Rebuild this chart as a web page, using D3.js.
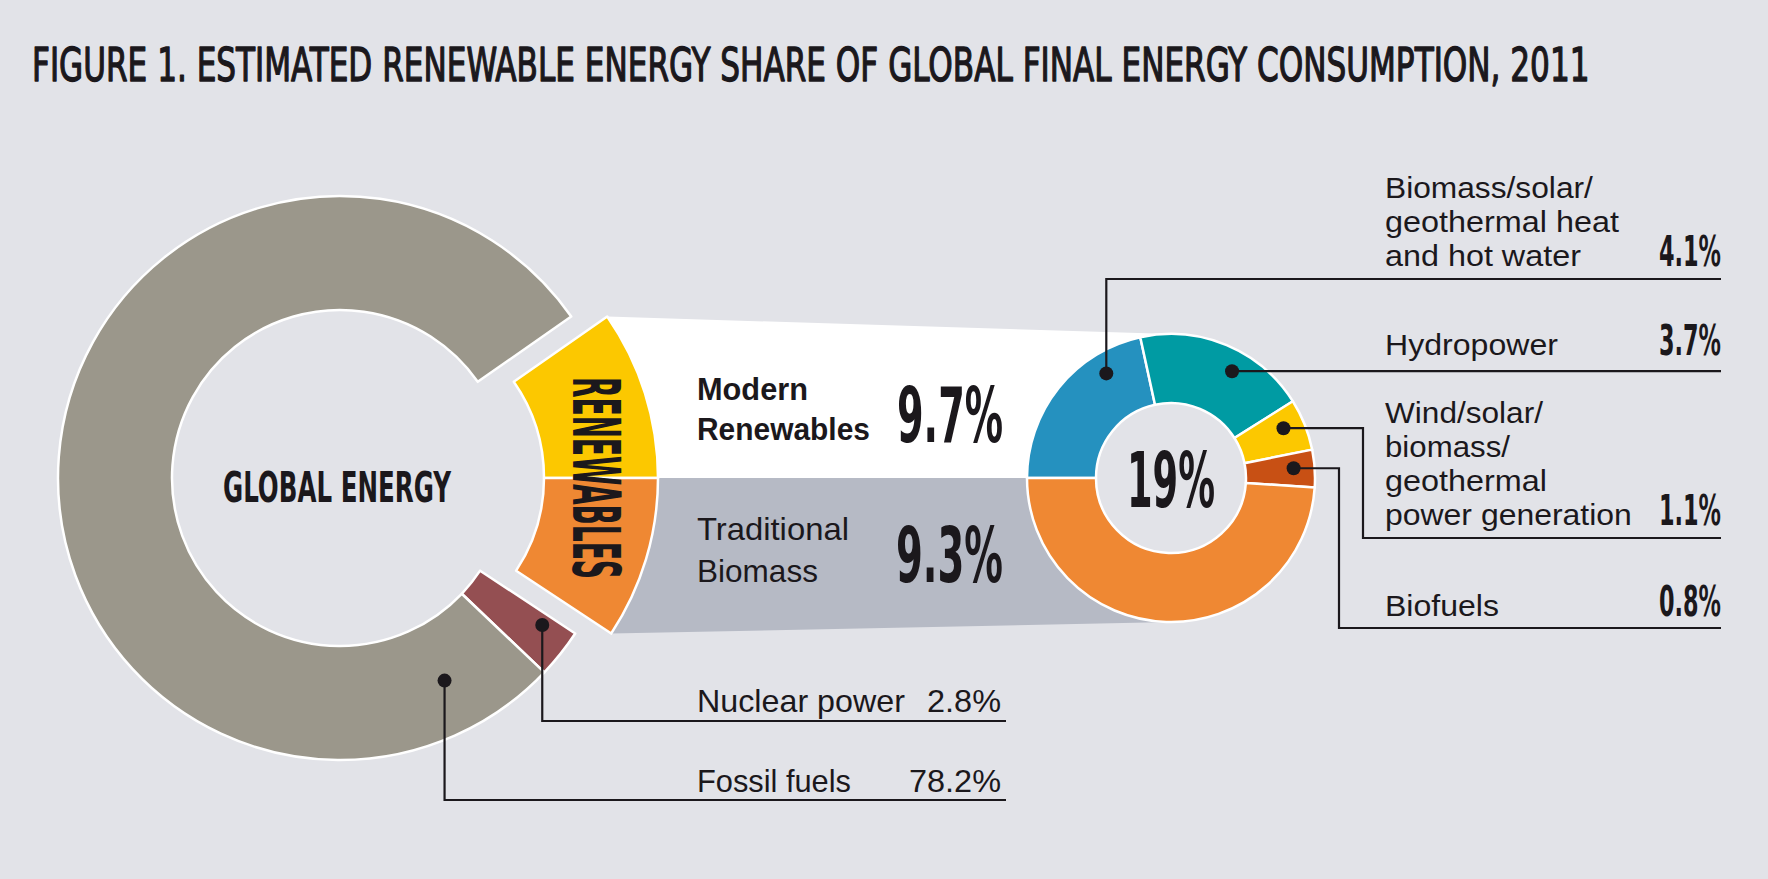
<!DOCTYPE html>
<html><head><meta charset="utf-8">
<script src="https://cdn.jsdelivr.net/npm/d3@7"></script>
<style>
html,body{margin:0;padding:0;background:#e2e3e8;}
svg{display:block;}
</style></head><body>
<svg id="c" width="1768" height="879"></svg>
<script>
// ---------- data ----------
const titleText = "FIGURE 1. ESTIMATED RENEWABLE ENERGY SHARE OF GLOBAL FINAL ENERGY CONSUMPTION, 2011";
const globalCategories = ["Renewables", "Nuclear power", "Fossil fuels"];
const globalValues = [19, 2.8, 78.2];
const renewableCategories = ["Modern Renewables", "Traditional Biomass"];
const renewableValues = [9.7, 9.3];
const modernCategories = ["Biomass/solar/geothermal heat and hot water", "Hydropower", "Wind/solar/biomass/geothermal power generation", "Biofuels"];
const modernValues = [4.1, 3.7, 1.1, 0.8];
const modernLabelLines = [["Biomass/solar/", "geothermal heat", "and hot water"], ["Hydropower"], ["Wind/solar/", "biomass/", "geothermal", "power generation"], ["Biofuels"]];
const renewableLabelLines = [["Modern", "Renewables"], ["Traditional", "Biomass"]];

// ---------- style / layout ----------
const W = 1768, H = 879;
const C = {
  bg: "#e2e3e8", fossil: "#9b978b", nuclear: "#944f52", modern: "#fcc800", trad: "#ef8833",
  heat: "#2591bf", hydro: "#009ba3", wind: "#fcc800", biofuel: "#c85014",
  panelW: "#ffffff", panelG: "#b6bac5", ink: "#1b181c"
};
const condFont = "'Liberation Sans Narrow','DejaVu Sans Condensed','Arial Narrow','Liberation Sans',sans-serif";
const bodyFont = "'Liberation Sans','Arial',sans-serif";

const svg = d3.select("#c");
svg.append("rect").attr("width", W).attr("height", H).attr("fill", C.bg);

function polar(cx, cy, r, a) { return [cx + r * Math.sin(a), cy - r * Math.cos(a)]; }
// text fitted to a measured width by a horizontal scale
function txt(s, x, y, o, parent) {
  const g = (parent || svg).append("g");
  const t = g.append("text").attr("x", 0).attr("y", o.dy || 0).text(s)
    .attr("font-family", o.family || bodyFont).attr("font-size", o.size)
    .attr("font-weight", o.weight || 400).attr("fill", C.ink)
    .attr("text-anchor", o.anchor || "start");
  if (o.stroke) t.attr("stroke", C.ink).attr("stroke-width", o.stroke).attr("stroke-linejoin", "round");
  let k = 1;
  if (o.len) { const n = t.node().getComputedTextLength(); if (n > 0) k = o.len / n; }
  g.attr("transform", `translate(${x},${y})${o.rotate ? ` rotate(${o.rotate})` : ""} scale(${k},1)`);
  return t;
}

// ---------- title ----------
txt(titleText, 32, 81, {family: condFont, size: 46, weight: 400, len: 1558, stroke: 1.3});

// ---------- left ring ----------
const L = {cx: 340, cy: 478, r0: 168, r1: 282, explode: 36};
const total = d3.sum(globalValues);
const a0 = Math.PI / 2 - renewableValues[0] / total * 2 * Math.PI;
const gArcs = d3.pie().sort(null).value(d => d).startAngle(a0).endAngle(a0 + 2 * Math.PI)(globalValues);
const arcL = d3.arc().innerRadius(L.r0).outerRadius(L.r1);
const renA = gArcs[0];
const rArcs = d3.pie().sort(null).value(d => d).startAngle(renA.startAngle).endAngle(renA.endAngle)(renewableValues);

// right donut
const R = {cx: 1171, cy: 478, r0: 75, r1: 144};
const mVals = modernValues.concat([renewableValues[1]]);
const mArcs = d3.pie().sort(null).value(d => d).startAngle(-Math.PI / 2).endAngle(1.5 * Math.PI)(mVals);
const arcR = d3.arc().innerRadius(R.r0).outerRadius(R.r1);

// ribbons joining renewables wedge and the 19% donut
const ex = L.cx + L.explode;
const cTop = polar(ex, L.cy, L.r1, renA.startAngle);
const cBot = polar(ex, L.cy, L.r1, renA.endAngle);
svg.append("path").attr("fill", C.panelW)
  .attr("d", d3.line()([[cTop[0], cTop[1]], [R.cx, R.cy - R.r1], [R.cx, R.cy], [cTop[0], R.cy]]) + "Z");
svg.append("path").attr("fill", C.panelG)
  .attr("d", d3.line()([[cBot[0], R.cy], [R.cx, R.cy], [R.cx, R.cy + R.r1], [cBot[0], cBot[1]]]) + "Z");

const gL = svg.append("g").attr("transform", `translate(${L.cx},${L.cy})`);
gL.selectAll("path").data(gArcs.slice(1)).join("path")
  .attr("d", arcL).attr("fill", (d, i) => [C.nuclear, C.fossil][i])
  .attr("stroke", "#fff").attr("stroke-width", 2.5).attr("stroke-linejoin", "round");

const gRen = svg.append("g").attr("transform", `translate(${ex},${L.cy})`);
gRen.selectAll("path").data(rArcs).join("path")
  .attr("d", arcL).attr("fill", (d, i) => [C.modern, C.trad][i])
  .attr("stroke", "#fff").attr("stroke-width", 2.5).attr("stroke-linejoin", "round");

// RENEWABLES vertical label
const midR = (L.r0 + L.r1) / 2 - 4;
txt(globalCategories[0].toUpperCase(), ex + midR, L.cy,
  {family: condFont, size: 66, weight: 700, anchor: "middle", len: 202, rotate: 90, dy: 24});

txt("GLOBAL ENERGY", L.cx - 3, 502, {family: condFont, size: 42, weight: 700, anchor: "middle", len: 228});

// right donut draw
const gR = svg.append("g").attr("transform", `translate(${R.cx},${R.cy})`);
gR.append("circle").attr("r", R.r0).attr("fill", C.bg);
gR.selectAll("path").data(mArcs).join("path")
  .attr("d", arcR).attr("fill", (d, i) => [C.heat, C.hydro, C.wind, C.biofuel, C.trad][i])
  .attr("stroke", "#fff").attr("stroke-width", 2.5).attr("stroke-linejoin", "round");
txt(d3.format(".0f")(d3.sum(renewableValues)) + "%", R.cx, 507, {family: condFont, size: 76, weight: 700, anchor: "middle", len: 88});

// ---------- middle labels ----------
const pct = v => d3.format(".1f")(v) + "%";
txt(renewableLabelLines[0][0], 697, 400, {size: 31, weight: 700, len: 111});
txt(renewableLabelLines[0][1], 697, 440, {size: 31, weight: 700, len: 173});
txt(pct(renewableValues[0]), 1003, 442, {family: condFont, size: 76, weight: 700, anchor: "end", len: 106});
txt(renewableLabelLines[1][0], 697, 540, {size: 31, len: 152});
txt(renewableLabelLines[1][1], 697, 582, {size: 31, len: 121});
txt(pct(renewableValues[1]), 1003, 582, {family: condFont, size: 76, weight: 700, anchor: "end", len: 107});

// ---------- leaders ----------
const leaderW = 2.2, dotR = 7;
function leader(pts, dot) {
  svg.append("path").attr("d", d3.line()(pts)).attr("fill", "none")
    .attr("stroke", C.ink).attr("stroke-width", leaderW);
  svg.append("circle").attr("cx", dot[0]).attr("cy", dot[1]).attr("r", dotR).attr("fill", C.ink);
}
function arcPoint(cx, cy, d, frac, r) {
  return polar(cx, cy, r, d.startAngle + frac * (d.endAngle - d.startAngle));
}
// nuclear & fossil
const nDot = arcPoint(L.cx, L.cy, gArcs[1], 0.25, 250);
leader([nDot, [nDot[0], 721], [1006, 721]], nDot);
txt(globalCategories[1], 697, 712, {size: 31, len: 208});
txt(pct(globalValues[1]), 1001, 712, {size: 31, anchor: "end", len: 74});
const fDot = arcPoint(L.cx, L.cy, gArcs[2], 0.068, 228);
leader([fDot, [fDot[0], 800], [1006, 800]], fDot);
txt(globalCategories[2], 697, 792, {size: 31, len: 154});
txt(pct(globalValues[2]), 1001, 792, {size: 31, anchor: "end", len: 92});

// modern renewables
const lx = 1385, rx = 1721;
const d0 = arcPoint(R.cx, R.cy, mArcs[0], 0.75, 123);
leader([d0, [d0[0], 279], [rx, 279]], d0);
const d1 = arcPoint(R.cx, R.cy, mArcs[1], 0.6, 123);
leader([d1, [rx, d1[1]]], d1);
const d2 = arcPoint(R.cx, R.cy, mArcs[2], 0.4, 123);
leader([d2, [1363, d2[1]], [1363, 538], [rx, 538]], d2);
const d3p = arcPoint(R.cx, R.cy, mArcs[3], 0.45, 123);
leader([d3p, [1339, d3p[1]], [1339, 628], [rx, 628]], d3p);

const lineLens = [[208, 234, 196], [173], [158, 125, 162, 247], [114]];
const firstBase = [198, 355, 423, 616];
const step = 34;
modernLabelLines.forEach((lines, i) => {
  lines.forEach((s, j) => txt(s, lx, firstBase[i] + j * step, {size: 29, len: lineLens[i][j]}));
  const lastBase = firstBase[i] + (lines.length - 1) * step;
  txt(pct(modernValues[i]), rx, lastBase, {family: condFont, size: 43, weight: 700, anchor: "end", len: 62});
});
</script>
</body></html>
